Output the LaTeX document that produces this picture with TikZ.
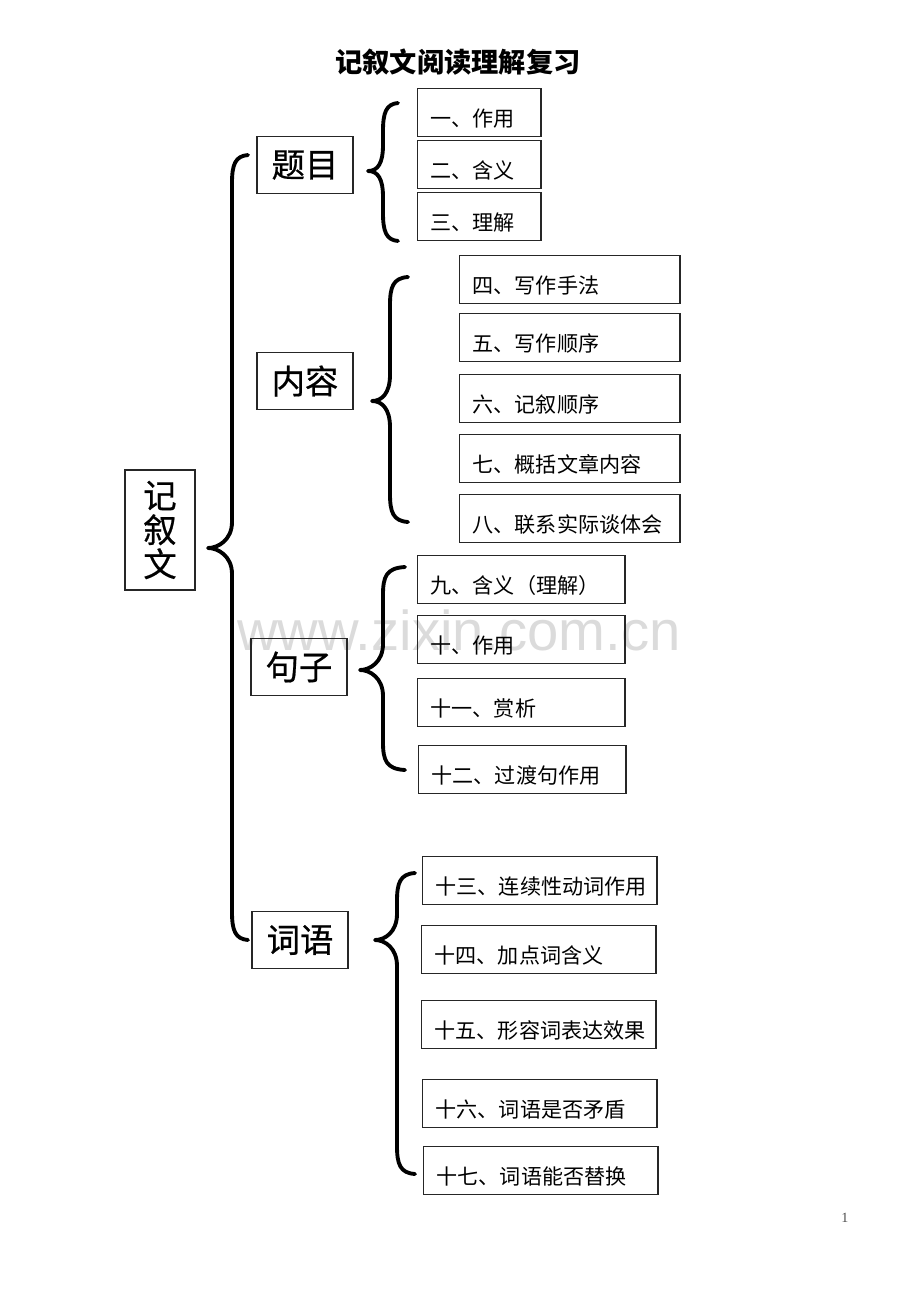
\documentclass[tikz,border=0pt]{standalone}
\usepackage{fontspec}
\setmainfont{Liberation Serif}
\newfontfamily\cjk{Noto Sans CJK SC}
\newfontfamily\cjkheavy{Noto Sans CJK SC}[FakeBold=0.6]
\newfontfamily\marksans{Liberation Sans}
\usetikzlibrary{positioning}

% curly brace: end x, line x, tip x, top y, tip y, bottom y
\newcommand{\drawbrace}[6]{%
  \draw[bracestroke] (#1,#4) .. controls (#2+3,#4+1) and (#2,#4+10) .. (#2,#4+28)
    -- (#2,#5-26) .. controls (#2,#5-8) and (#3+10,#5) .. (#3,#5)
    .. controls (#3+10,#5) and (#2,#5+8) .. (#2,#5+26)
    -- (#2,#6-28) .. controls (#2,#6-10) and (#2+3,#6-1) .. (#1,#6);}

\begin{document}
\begin{tikzpicture}[
  x=0.02cm, y=-0.02cm,
  titletext/.style={font=\cjk\bfseries\fontsize{15.5}{17}\selectfont},
  rootbox/.style={draw=black!85, line width=0.8pt, minimum width=1.4cm,
                  minimum height=2.4cm, align=center, inner sep=0pt,
                  font=\cjkheavy\fontsize{19}{19.5}\selectfont},
  mainbox/.style={draw=black!85, line width=0.8pt, minimum width=1.92cm,
                  minimum height=1.14cm, inner sep=0pt,
                  font=\cjkheavy\fontsize{19}{20}\selectfont},
  itembox/.style={draw=black!85, line width=0.8pt, anchor=north west,
                  minimum height=0.96cm, inner xsep=0.26cm, inner ysep=0pt,
                  text width=#1, align=left, text height=18pt, text depth=2pt,
                  font=\cjk\fontsize{12}{14}\selectfont},
  bracestroke/.style={line width=2.2pt, line cap=round, line join=round},
  watermark/.style={anchor=base, text=black!14, font=\marksans\fontsize{32}{34}\selectfont},
  pagenum/.style={text=black!70, font=\fontsize{8}{9}\selectfont}
]
\useasboundingbox (0,0) rectangle (920,1302);

\node[watermark] (mark) at (459,650) {www.zixin.com.cn};

\node[titletext] (title) at (458,62) {记叙文阅读理解复习};

\node[rootbox] (root) at (160,530) {记\\叙\\文};

\node[mainbox] (timu) at (305,165) {题目};
\node[mainbox] (neirong) at (305,381) {内容};
\node[mainbox] (juzi) at (299,667) {句子};
\node[mainbox] (ciyu) at (300,940) {词语};

% 题目
\node[itembox=1.95cm] (t1) at (417,88) {一、作用};
\node[itembox=1.95cm] (t2) at (417,140) {二、含义};
\node[itembox=1.95cm] (t3) at (417,192) {三、理解};

% 内容
\node[itembox=3.89cm] (n4) at (459,255) {四、写作手法};
\node[itembox=3.89cm] (n5) at (459,313) {五、写作顺序};
\node[itembox=3.89cm] (n6) at (459,374) {六、记叙顺序};
\node[itembox=3.89cm] (n7) at (459,434) {七、概括文章内容};
\node[itembox=3.89cm] (n8) at (459,494) {八、联系实际谈体会};

% 句子
\node[itembox=3.63cm] (j9) at (417,555) {九、含义（理解）};
\node[itembox=3.63cm] (j10) at (417,615) {十、作用};
\node[itembox=3.63cm] (j11) at (417,678) {十一、赏析};
\node[itembox=3.63cm] (j12) at (418,745) {十二、过渡句作用};

% 词语
\node[itembox=4.17cm] (c13) at (422,856) {十三、连续性动词作用};
\node[itembox=4.17cm] (c14) at (421,925) {十四、加点词含义};
\node[itembox=4.17cm] (c15) at (421,1000) {十五、形容词表达效果};
\node[itembox=4.17cm] (c16) at (422,1079) {十六、词语是否矛盾};
\node[itembox=4.17cm] (c17) at (423,1146) {十七、词语能否替换};

% braces
\drawbrace{248}{232}{208}{155}{548}{940}
\drawbrace{398}{383}{368}{103}{171}{241}
\drawbrace{408}{390}{372}{277}{401}{522}
\drawbrace{405}{383}{360}{567}{670}{770}
\drawbrace{415}{397}{375}{873}{940}{1174}

\node[pagenum] (pageno) at (845,1218) {1};
\end{tikzpicture}
\end{document}
